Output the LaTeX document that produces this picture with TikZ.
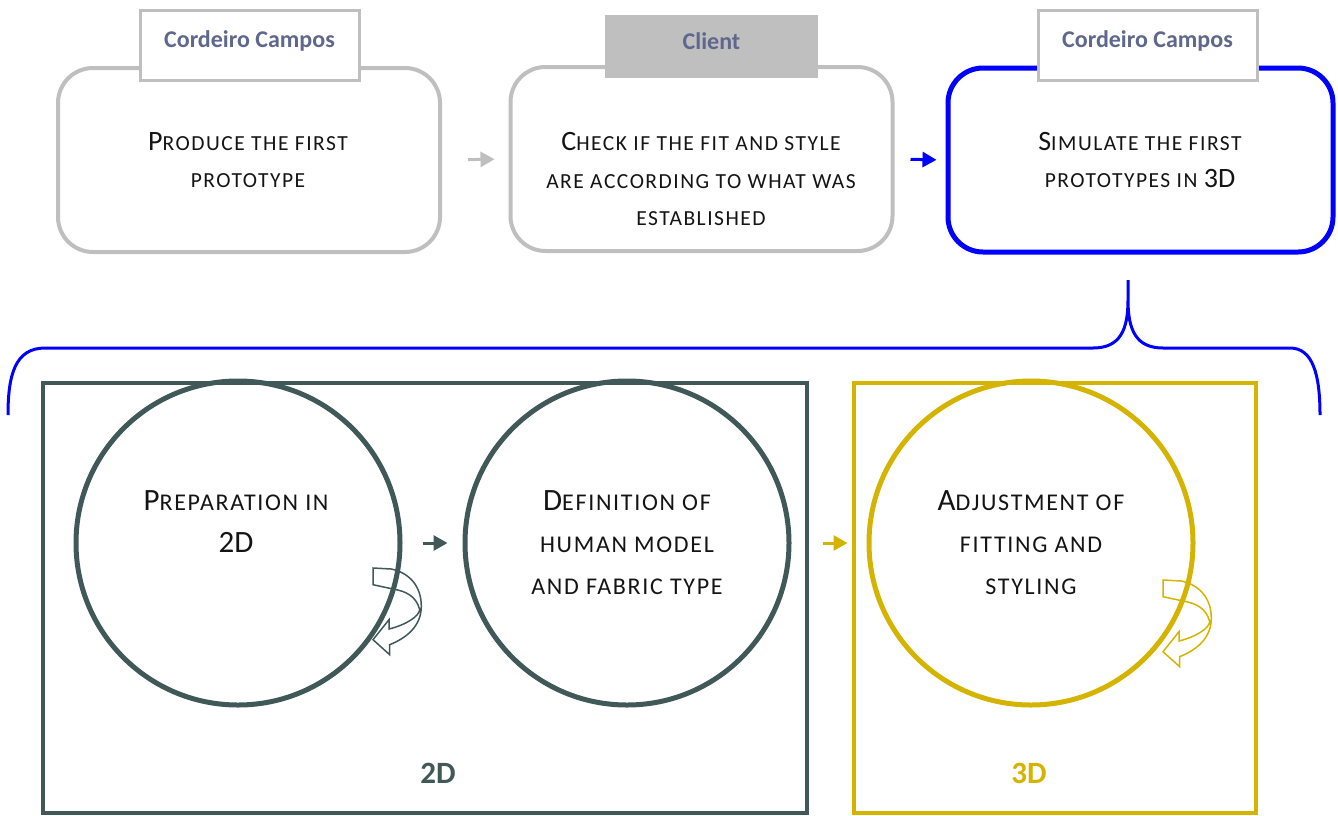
\documentclass[tikz,border=0pt]{standalone}
\usepackage{fontspec}
\setmainfont{Carlito}
\usetikzlibrary{arrows.meta,positioning}

\definecolor{boxgray}{RGB}{191,191,191}
\definecolor{labelblue}{RGB}{95,104,140}
\definecolor{pureblue}{RGB}{0,0,255}
\definecolor{slate}{RGB}{64,88,88}
\definecolor{gold}{RGB}{212,180,0}
\definecolor{inkblack}{RGB}{20,20,20}

% lower part of a small-caps word (stage boxes / phase circles)
\newcommand{\lo}[1]{{\fontsize{21.5}{38}\selectfont\addfontfeature{LetterSpace=7}\MakeUppercase{#1}}}
\newcommand{\lob}[1]{{\fontsize{24}{42}\selectfont\addfontfeature{LetterSpace=7}\MakeUppercase{#1}}}

\tikzset{
  stagebox/.style={draw=boxgray, line width=4pt, rounded corners=35pt,
    minimum width=382pt, minimum height=184pt, inner sep=0pt},
  stagetext/.style={align=center, text=inkblack, font=\fontsize{28}{37.5}\selectfont},
  ownerbox/.style={draw=boxgray, fill=white, line width=3pt, minimum width=219pt,
    minimum height=70pt, inner sep=0pt, text height=14pt, text depth=9pt,
    text=labelblue, font=\fontsize{24}{28}\selectfont\bfseries},
  phase/.style={circle, line width=5pt, minimum size=324pt, inner sep=0pt},
  phasetext/.style={align=center, text=inkblack, font=\fontsize{31}{42}\selectfont},
  groupbox/.style={line width=3.5pt, minimum height=430pt, inner sep=0pt},
  grouplabel/.style={font=\fontsize{31}{36}\selectfont\bfseries},
  flow/.style={line width=3pt, -{Triangle[length=14pt,width=15pt]}},
  turnarrow/.pic={
    \draw[line width=1.5pt] (0,0) -- (18.3,1) .. controls (36.7,5) and (48.3,18.3) .. (48.3,38.3)
      .. controls (48.3,58.3) and (33.3,70) .. (16.7,76.7) -- (16.7,86.7) -- (0,71.7)
      -- (16,51.7) -- (16,61) .. controls (33.3,56.7) and (46,48.3) .. (46.7,41.7)
      .. controls (43.3,28.3) and (33.3,23.3) .. (20,21) -- (0,16.7) -- cycle;
  }
}

\begin{document}
\begin{tikzpicture}[x=1pt,y=-1pt]
\useasboundingbox (0,0) rectangle (1338,815);

% Top row of stages
\node[stagebox] (produce) at (249,160) {};
\node[stagebox] (check) at (701.5,159) {};
\node[stagebox, draw=pureblue, line width=5pt, minimum width=385pt] (simulate) at (1140.5,160) {};

\node[stagetext] (produce-text) at (248,160) {P\lo{roduce the first}\\\lo{prototype}};
\node[stagetext] (check-text) at (701,179) {C\lo{heck if the fit and style}\\\lo{are according to what was}\\\lo{established}};
\node[stagetext] (simulate-text) at (1140,160) {S\lo{imulate the first}\\\lo{prototypes in} 3D};

% Who does what
\node[ownerbox] (owner1) at (249.5,45) {Cordeiro Campos};
\node[ownerbox, draw=none, fill=boxgray, minimum width=213pt, minimum height=63pt] (owner2) at (711.5,46.5) {Client};
\node[ownerbox] (owner3) at (1147.5,45) {Cordeiro Campos};

\draw[flow, boxgray, shorten <=26pt, shorten >=14pt] (produce.east) -- (check.west);
\draw[flow, pureblue, shorten <=16pt, shorten >=9pt] (check.east) -- (simulate.west);

% Brace
\draw[pureblue, line width=3pt] (8,415) .. controls (8,375) and (15,348) .. (45,348) -- (1093,348)
  .. controls (1120,348) and (1128,330) .. (1128,300) -- (1128,280) -- (1128,300)
  .. controls (1128,330) and (1136,348) .. (1163,348) -- (1290,348)
  .. controls (1313,348) and (1320,375) .. (1320,415);

% Groups
\node[groupbox, draw=slate, minimum width=764pt] (group2d) at (425,598) {};
\node[groupbox, draw=gold, minimum width=402pt] (group3d) at (1055,598) {};
\node[grouplabel, text=slate] (label2d) at (438,773) {2D};
\node[grouplabel, text=gold] (label3d) at (1029,773) {3D};

% Turning arrows
\pic[slate] at (373,568) {turnarrow};
\pic[gold] at (1163,580) {turnarrow};

% Phases
\node[phase, draw=slate] (prep) at (238,543) {};
\node[phase, draw=slate] (define) at (627,543) {};
\node[phase, draw=gold] (adjust) at (1031,543) {};

\node[phasetext] (prep-text) at (236,522) {P\lob{reparation in}\\2D};
\node[phasetext] (define-text) at (627,543) {D\lob{efinition of}\\\lob{human model}\\\lob{and fabric type}};
\node[phasetext] (adjust-text) at (1031,543) {A\lob{djustment of}\\\lob{fitting and}\\\lob{styling}};

\draw[flow, slate, shorten <=20pt, shorten >=15pt] (prep.east) -- (define.west);
\draw[flow, gold, shorten <=31pt, shorten >=19pt] (define.east) -- (adjust.west);
\end{tikzpicture}
\end{document}
